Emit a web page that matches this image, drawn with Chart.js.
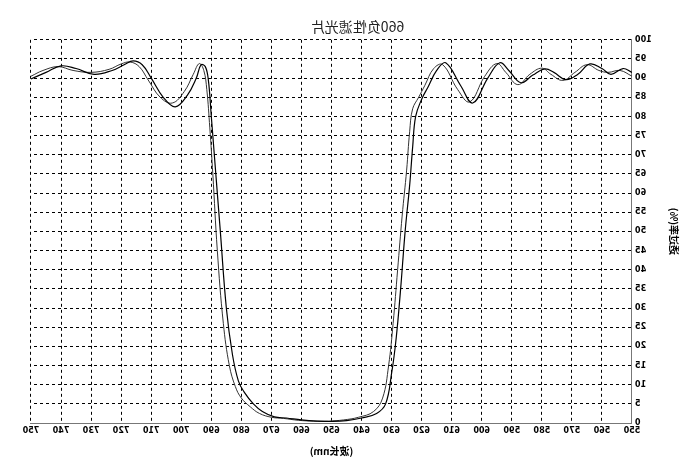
<!DOCTYPE html>
<html><head><meta charset="utf-8">
<script src="https://cdn.jsdelivr.net/npm/chart.js@4"></script>
<style>html,body{margin:0;background:#fff}#w{width:694px;height:471px;transform:scaleX(-1)}</style>
</head><body><div id="w"><canvas id="c" width="694" height="471"></canvas></div>
<script>
const titleText = '660负性滤光片';
const xTitle = '(波长nm)';
const yTitle = '透过率(%)';
const wl1 = [550,553,557,560,564,568,572,576,579,583,587,591,594,598,603,607,612,615,618,620,622,623,624,625.5,627,628.5,630,632,635,640,645,650,655,660,665,669,673,676,679,681,683,685,687,689,690,691,692,693.4,695,698,702,706,710,713,716,719,723,729,735,740,745,750];
const t1  = [91.5,92.5,91,92.5,93.7,91,89.6,91.5,92.4,90.8,88.8,92,94,90,83.5,88,94,92,87.5,84.5,80,72,62,50,35,22,13,5,2.5,1.3,0.6,0.4,0.5,0.8,1.3,1.6,3,5,8,11,18,30,50,70,80,89.6,93,93.5,90,85.5,82.5,85,90,93.5,94.5,93.5,92,91,92.5,93.2,91.5,89.8];
const wl2 = [550,554,558,561,565,569,573,577,580,584,588,592,595,599,604,608,613,616,619,621,623,624,625,626.5,628,629.5,631,633,636,641,646,651,656,661,666,670,674,677,680,682,684,686,688,689.5,690.5,691.5,692.5,694,696,699,703,707,711,714,717,720,724,730,736,741,746,750];
const t2  = [90.5,92,91.5,92,93.5,91.5,89.4,91,92.6,91,88.3,91.5,93.8,90.5,83.8,87,93.5,92.5,88,85,82,76,66,54,40,26,15,6.5,3,1.5,0.8,0.5,0.5,0.7,1.2,1.5,2.5,4.2,6.5,9.5,15,26,45,65,77,87,92,93.8,91,86.5,83.5,85,89.5,93,94.2,93.7,92.3,91.5,92,93,92,90.5];
const xTicks = [550,560,570,580,590,600,610,620,630,640,650,660,670,680,690,700,710,720,730,740,750];
const yTicks = [0,5,10,15,20,25,30,35,40,45,50,55,60,65,70,75,80,85,90,95,100];
const mk = (w,t)=>w.map((x,i)=>({x:x,y:t[i]}));
new Chart(document.getElementById('c'),{
  type:'scatter',
  data:{datasets:[
    {data:mk(wl1,t1),showLine:true,borderColor:'#000',borderWidth:1.2,pointRadius:0,tension:0.4},
    {data:mk(wl2,t2),showLine:true,borderColor:'#333',borderWidth:1,pointRadius:0,tension:0.4}
  ]},
  options:{
    responsive:false,animation:false,
    layout:{padding:{left:10,right:31,top:0,bottom:14}},
    plugins:{legend:{display:false},tooltip:{enabled:false},
      title:{display:true,text:titleText,color:'#222',font:{size:14,weight:'normal',family:'Noto Sans CJK SC'},padding:{top:18,bottom:5}}},
    scales:{
      x:{type:'linear',min:550,max:750,
        afterBuildTicks:a=>{a.ticks=xTicks.map(v=>({value:v}));},
        afterFit:a=>{a.height=34;},
        ticks:{color:'#000',font:{size:8,weight:'bold',family:'DejaVu Sans'},maxRotation:0,padding:3},
        grid:{color:'#000',lineWidth:1,drawTicks:false},border:{display:true,color:'#777',dash:[3,3]},
        title:{display:true,text:xTitle,color:'#000',font:{size:10,weight:'bold',family:'Noto Sans CJK SC'},padding:{top:2,bottom:0}}},
      y:{min:0,max:100,
        afterBuildTicks:a=>{a.ticks=yTicks.map(v=>({value:v}));},
        afterFit:a=>{a.width=52;},
        ticks:{color:'#000',font:{size:8,weight:'bold',family:'DejaVu Sans'},padding:3},
        grid:{color:'#000',lineWidth:1,drawTicks:false},border:{display:true,color:'#777',dash:[3,3]},
        title:{display:true,text:yTitle,color:'#000',font:{size:10,weight:'bold',family:'Noto Sans CJK SC'}}}
    }
  }
});
</script></body></html>
